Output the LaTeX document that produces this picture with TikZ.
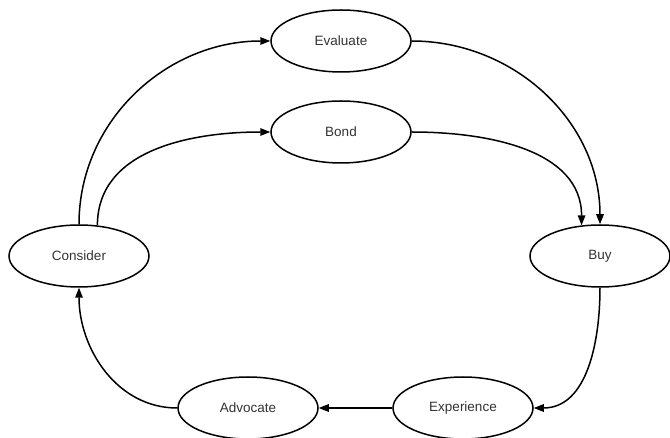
\documentclass[tikz,border=0pt]{standalone}
\usepackage{fontspec}
\setmainfont{Liberation Sans}
\usetikzlibrary{shapes.geometric,arrows.meta}
\begin{document}
\begin{tikzpicture}[x=1pt,y=-1pt,
  stage/.style={ellipse,draw,line width=1.5pt,inner sep=0pt,
    minimum width=140pt,minimum height=62pt,text=black!80,
    font=\fontsize{13.5}{16}\selectfont},
  flow/.style={line width=1.5pt,-{Triangle[length=10pt,width=7.5pt]}}]
\useasboundingbox (0,0) rectangle (670,438);
% stages of the cycle
\node[stage] (evaluate)   at (341,41)  {Evaluate};
\node[stage] (bond)       at (341,132) {Bond};
\node[stage] (consider)   at (79,256)  {Consider};
\node[stage] (buy)        at (600,256) {Buy};
\node[stage] (advocate)   at (248,408) {Advocate};
\node[stage] (experience) at (463,408) {Experience};
% transitions
\draw[flow] (consider.north) to[out=90,in=180] (evaluate.west);
\draw[flow] (consider.59) to[out=90,in=180] (bond.west);
\draw[flow] (evaluate.east) to[out=0,in=90] (buy.north);
\draw[flow] (bond.east) to[out=0,in=90] (buy.121);
\draw[flow] (buy.south) to[out=-90,in=0] (experience.east);
\draw[flow] (experience.west) -- (advocate.east);
\draw[flow] (advocate.west) to[out=180,in=-90] (consider.south);
\end{tikzpicture}
\end{document}
